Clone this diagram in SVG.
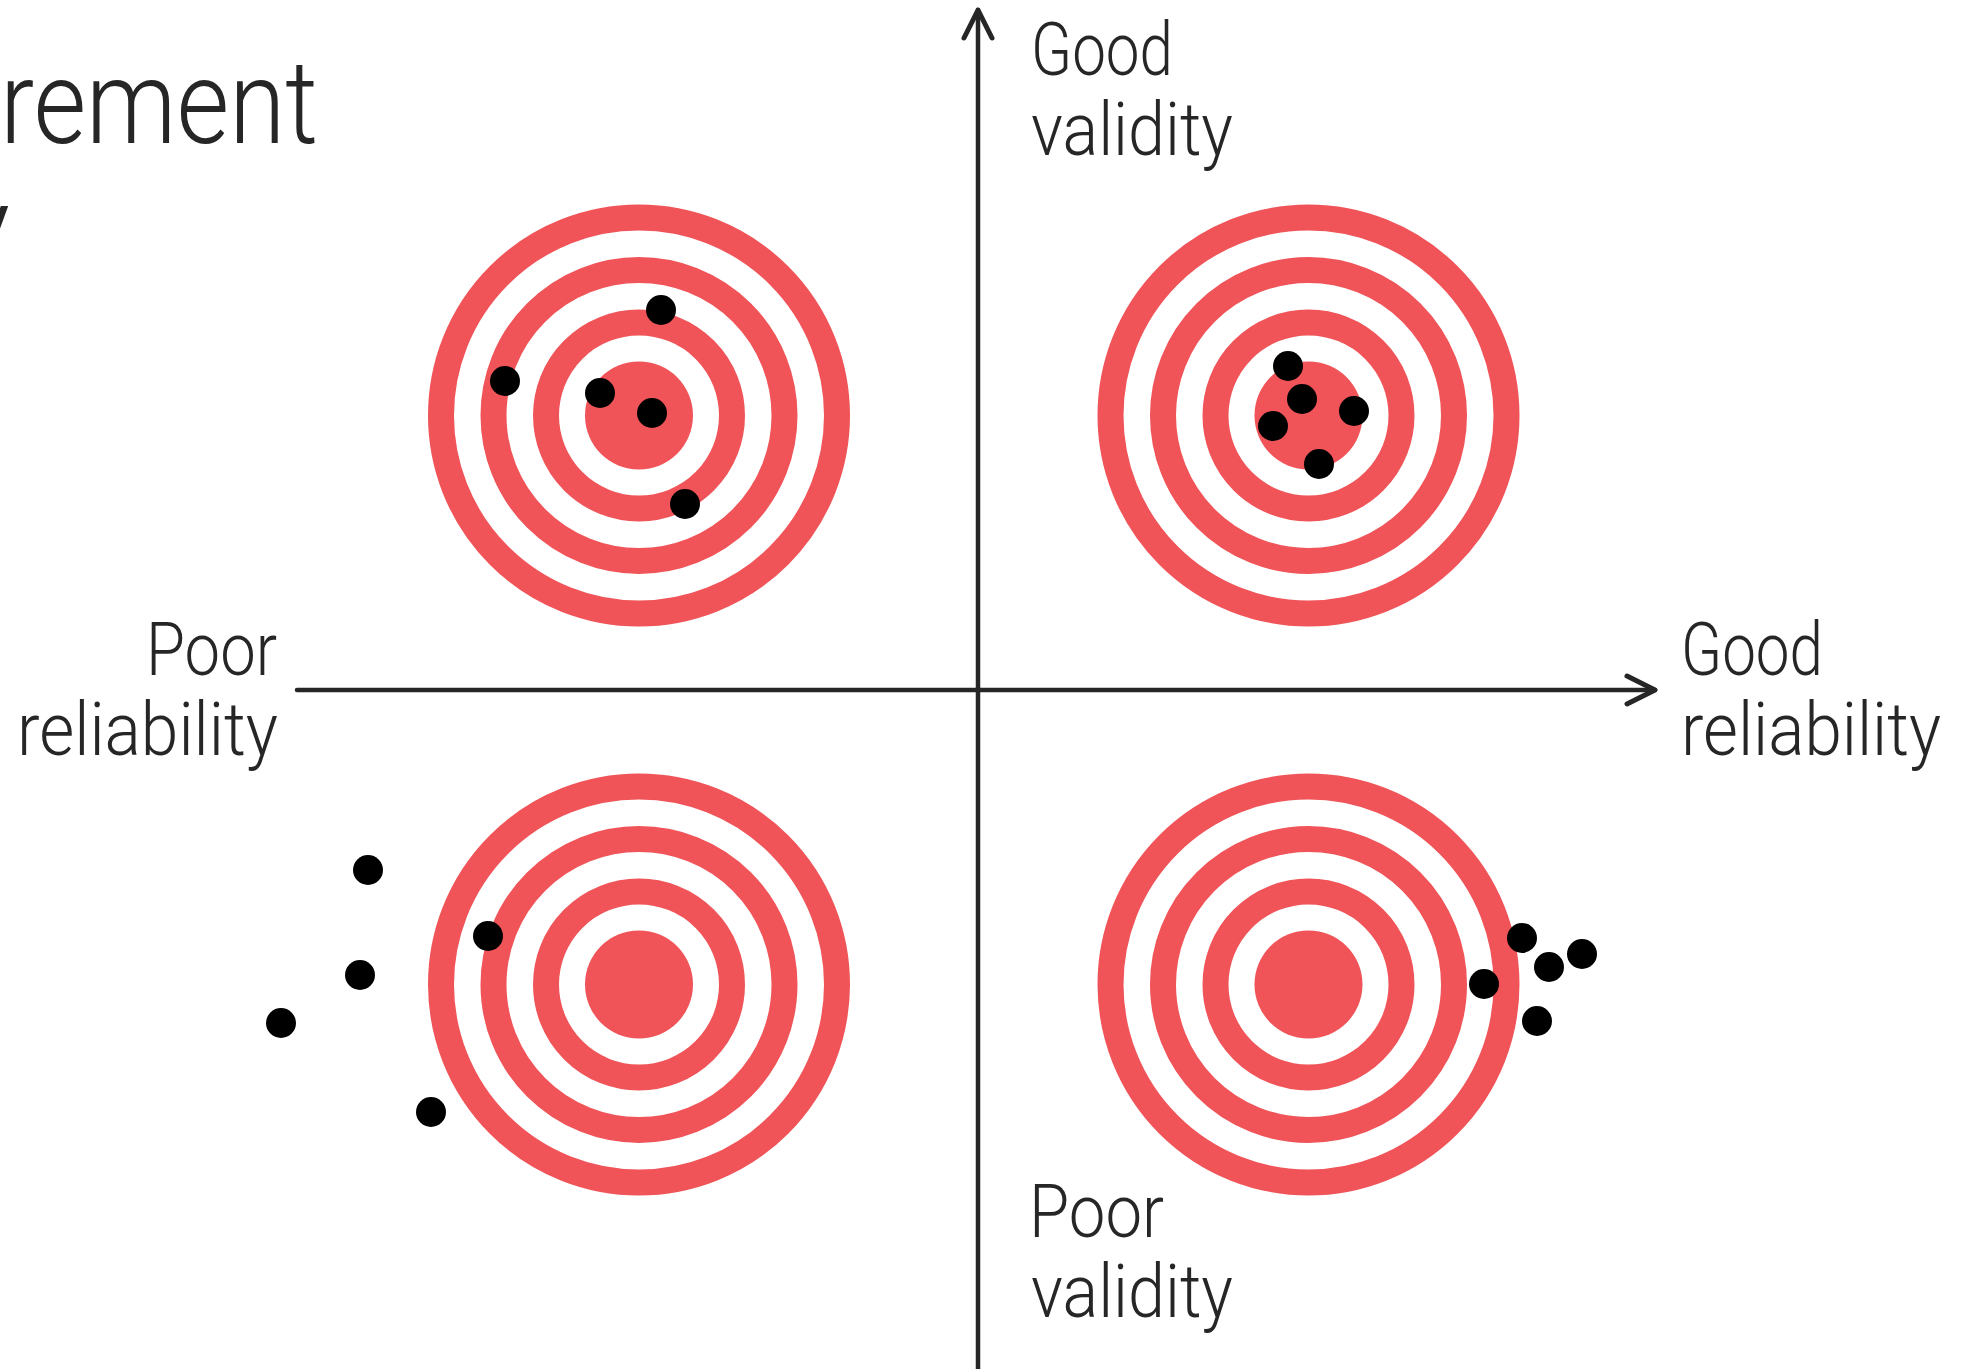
<svg xmlns="http://www.w3.org/2000/svg" xmlns:xlink="http://www.w3.org/1999/xlink" width="1972" height="1369" viewBox="0 0 1972 1369">
<style>
.lbl{font-family:Roboto,"Liberation Sans",sans-serif;font-weight:300;font-size:74px;fill:#262626}
.title{font-family:Roboto,"Liberation Sans",sans-serif;font-weight:300;font-size:117px;fill:#262626}
.ring{fill:none;stroke:#F05458;stroke-width:26}
.bull{fill:#F05458}
.dot{fill:#000}
.axis{fill:none;stroke:#262626;stroke-width:4.5;stroke-linecap:round}
</style>
<defs>
<marker id="arrow" markerUnits="userSpaceOnUse" markerWidth="40" markerHeight="40" viewBox="-34 -20 40 40" refX="0" refY="0" orient="auto" overflow="visible">
<path d="M-28,-14 L0,0 L-28,14" fill="none" stroke="#262626" stroke-width="5" stroke-linecap="round" stroke-linejoin="round"/>
</marker>
<g id="target">
<circle class="ring" r="198"/>
<circle class="ring" r="145.5"/>
<circle class="ring" r="93"/>
<circle class="bull" r="54"/>
</g>
</defs>
<rect width="1972" height="1369" fill="#fff"/>
<g id="title">
<text class="title" x="0" y="143" textLength="318" lengthAdjust="spacingAndGlyphs">rement</text>
<text class="title" x="10" y="268" text-anchor="end">y</text>
</g>
<g id="connectors">
<line class="axis" x1="978" y1="1369" x2="978" y2="10" marker-end="url(#arrow)"/>
<line class="axis" x1="297" y1="690" x2="1655" y2="690" marker-end="url(#arrow)"/>
</g>
<g id="target-top-left">
<use xlink:href="#target" href="#target" x="639" y="415.5"/>
<circle class="dot" cx="661" cy="310" r="15"/>
<circle class="dot" cx="505" cy="381" r="15"/>
<circle class="dot" cx="600" cy="393" r="15"/>
<circle class="dot" cx="652" cy="413" r="15"/>
<circle class="dot" cx="685" cy="504" r="15"/>
</g>
<g id="target-top-right">
<use xlink:href="#target" href="#target" x="1308.5" y="415.5"/>
<circle class="dot" cx="1288" cy="366" r="15"/>
<circle class="dot" cx="1302" cy="399" r="15"/>
<circle class="dot" cx="1354" cy="411" r="15"/>
<circle class="dot" cx="1273" cy="426" r="15"/>
<circle class="dot" cx="1319" cy="464" r="15"/>
</g>
<g id="target-bottom-left">
<use xlink:href="#target" href="#target" x="639" y="984.5"/>
<circle class="dot" cx="368" cy="870" r="15"/>
<circle class="dot" cx="488" cy="936" r="15"/>
<circle class="dot" cx="360" cy="975" r="15"/>
<circle class="dot" cx="281" cy="1023" r="15"/>
<circle class="dot" cx="431" cy="1112" r="15"/>
</g>
<g id="target-bottom-right">
<use xlink:href="#target" href="#target" x="1308.5" y="984.5"/>
<circle class="dot" cx="1522" cy="938" r="15"/>
<circle class="dot" cx="1582" cy="954" r="15"/>
<circle class="dot" cx="1549" cy="967" r="15"/>
<circle class="dot" cx="1484" cy="984" r="15"/>
<circle class="dot" cx="1537" cy="1021" r="15"/>
</g>
<g id="label-good-validity">
<text class="lbl" x="1031" y="75" textLength="142" lengthAdjust="spacingAndGlyphs">Good</text>
<text class="lbl" x="1031" y="155" textLength="202" lengthAdjust="spacingAndGlyphs">validity</text>
</g>
<g id="label-poor-validity">
<text class="lbl" x="1029" y="1237" textLength="135" lengthAdjust="spacingAndGlyphs">Poor</text>
<text class="lbl" x="1031" y="1317" textLength="202" lengthAdjust="spacingAndGlyphs">validity</text>
</g>
<g id="label-good-reliability">
<text class="lbl" x="1681" y="675" textLength="142" lengthAdjust="spacingAndGlyphs">Good</text>
<text class="lbl" x="1681" y="755" textLength="260" lengthAdjust="spacingAndGlyphs">reliability</text>
</g>
<g id="label-poor-reliability">
<text class="lbl" x="146" y="675" textLength="131" lengthAdjust="spacingAndGlyphs">Poor</text>
<text class="lbl" x="17" y="755" textLength="261" lengthAdjust="spacingAndGlyphs">reliability</text>
</g>
</svg>
